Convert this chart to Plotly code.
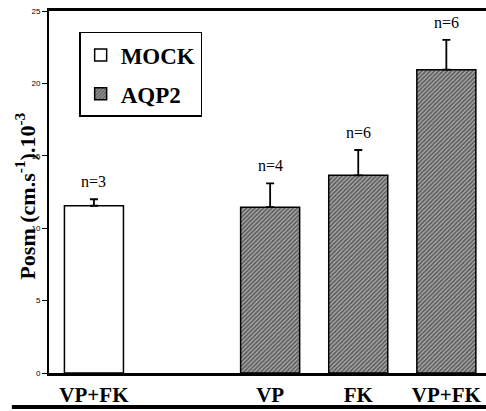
import plotly.graph_objects as go

# Osmotic water permeability per condition
mock_labels = ["VP+FK"]
mock_pos = [0]
mock_vals = [11.55]
mock_err = [0.45]
mock_n = ["n=3"]

aqp2_labels = ["VP", "FK", "VP+FK"]
aqp2_pos = [2, 3, 4]
aqp2_vals = [11.45, 13.65, 20.95]
aqp2_err = [1.65, 1.75, 2.05]
aqp2_n = ["n=4", "n=6", "n=6"]

y_ticks = [0, 5, 10, 15, 20, 25]

serif = "Liberation Serif"

fig = go.Figure()

fig.add_trace(go.Bar(
    name="<b>MOCK</b>", x=mock_pos, y=mock_vals, width=0.67,
    marker=dict(color="white", line=dict(color="black", width=1.5)),
    error_y=dict(type="data", array=mock_err, arrayminus=[0] * len(mock_err),
                 symmetric=False, color="black", thickness=1.8, width=4),
    legendgroup="a",
))
fig.add_trace(go.Bar(
    name="<b>AQP2</b>", x=aqp2_pos, y=aqp2_vals, width=0.67,
    marker=dict(color="white", line=dict(color="black", width=1.5),
                pattern=dict(shape="/", fgcolor="black", bgcolor="#c4c4c4",
                             size=3, solidity=0.7)),
    error_y=dict(type="data", array=aqp2_err, arrayminus=[0] * len(aqp2_err),
                 symmetric=False, color="black", thickness=1.8, width=4),
    legendgroup="b",
))

# sample-size labels above each error bar
for xs, vs, es, ns in [(mock_pos, mock_vals, mock_err, mock_n),
                       (aqp2_pos, aqp2_vals, aqp2_err, aqp2_n)]:
    for x, v, e, n in zip(xs, vs, es, ns):
        fig.add_annotation(x=x, y=v + e, text=n, showarrow=False,
                           yanchor="bottom", yshift=7,
                           font=dict(family=serif, size=16, color="black"))

# y-axis title
fig.add_annotation(xref="paper", yref="paper", x=-0.055, y=0.49,
                   text="<b>Posm (cm.s<sup>-1</sup>).10<sup>-3</sup></b>",
                   textangle=-90, showarrow=False, xanchor="center", yanchor="middle",
                   font=dict(family=serif, size=22, color="black"))

# heavy rule under the category labels
fig.add_shape(type="line", xref="paper", yref="paper",
              x0=-0.085, x1=1.0, y0=-0.094, y1=-0.094,
              line=dict(color="black", width=4))

fig.update_layout(
    width=486, height=411,
    margin=dict(l=49, r=0, t=11, b=38),
    plot_bgcolor="white", paper_bgcolor="white",
    barmode="overlay",
    showlegend=True,
    legend=dict(x=0.069, y=0.942, xanchor="left", yanchor="top",
                bordercolor="black", borderwidth=1.5, bgcolor="white",
                font=dict(family=serif, size=23, color="black"),
                tracegroupgap=6, itemwidth=30),
    xaxis=dict(range=[-0.51, 4.45], tickvals=mock_pos + aqp2_pos,
               ticktext=["<b>%s</b>" % t for t in mock_labels + aqp2_labels],
               tickfont=dict(family=serif, size=21, color="black"),
               ticklabelstandoff=1,
               showline=True, linecolor="black", linewidth=2.5, mirror=True,
               ticks="", showgrid=False, zeroline=False),
    yaxis=dict(range=[0, 25], tickvals=y_ticks,
               tickfont=dict(family="Liberation Sans", size=8, color="black"),
               ticks="outside", ticklen=5, tickwidth=1, tickcolor="black",
               showline=True, linecolor="black", linewidth=2,
               showgrid=False, zeroline=False),
)

fig.write_html("out.html")
